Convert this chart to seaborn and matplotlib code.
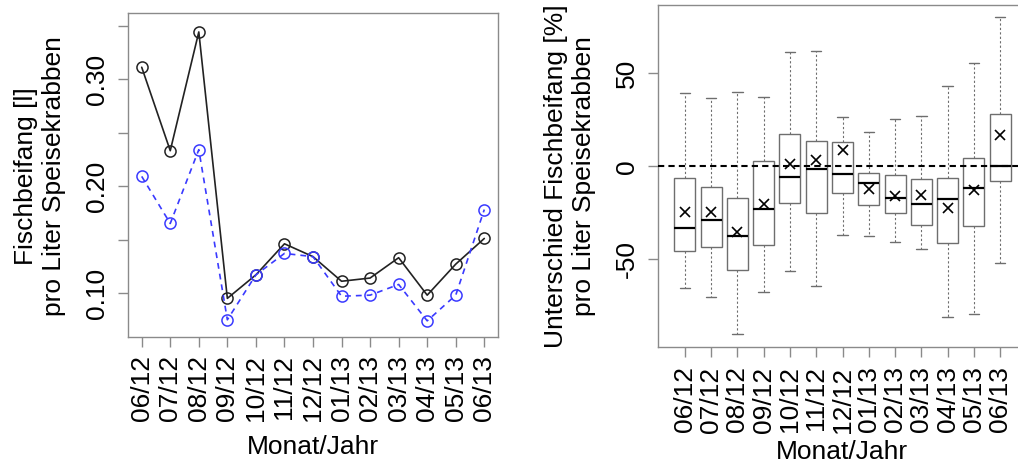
import numpy as np
import pandas as pd
import matplotlib
matplotlib.use("Agg")
import matplotlib.pyplot as plt
import seaborn as sns

# Month labels (month/year)
months = ["06/12", "07/12", "08/12", "09/12", "10/12", "11/12", "12/12",
          "01/13", "02/13", "03/13", "04/13", "05/13", "06/13"]

# Fish bycatch per litre of shrimp: two series
bycatch_a = [0.311, 0.233, 0.344, 0.095, 0.117, 0.146, 0.134,
             0.111, 0.114, 0.133, 0.098, 0.127, 0.151]
bycatch_b = [0.209, 0.165, 0.234, 0.075, 0.117, 0.137, 0.134,
             0.097, 0.098, 0.108, 0.074, 0.098, 0.178]

# Difference in bycatch [%]: five-number summaries and means per month
diff_min = [-65.4, -70.4, -90.1, -67.4, -56.5, -64.5, -36.7,
            -37.6, -40.5, -44.6, -80.8, -79.2, -51.8]
diff_q1 = [-45.5, -43.4, -55.9, -42.3, -19.9, -25.3, -14.2,
           -20.8, -25.3, -31.4, -41.2, -32.3, -7.7]
diff_median = [-33.2, -29.0, -37.6, -22.8, -5.7, -1.6, -4.1,
               -9.1, -17.0, -20.1, -17.7, -11.5, 0.0]
diff_q3 = [-6.3, -11.1, -17.0, 2.9, 17.2, 13.6, 13.1,
           -3.6, -4.8, -6.6, -6.1, 4.5, 28.1]
diff_max = [39.1, 36.4, 39.8, 37.3, 61.1, 62.0, 26.3,
            18.5, 25.1, 27.1, 43.2, 55.2, 79.9]
diff_mean = [-24.6, -24.6, -35.3, -20.4, 1.4, 3.2, 8.6,
             -12.0, -15.9, -15.2, -22.4, -12.9, 16.7]

sns.set_style("white")
plt.rcParams["font.family"] = ["Liberation Sans", "DejaVu Sans"]
plt.rcParams["text.color"] = "black"

FS = 19
SPINE = "#8a8a8a"

fig = plt.figure(figsize=(10.18, 4.65), dpi=100)
W, H = 1018, 465
ax1 = fig.add_axes([128 / W, (H - 337) / H, 370 / W, 324 / H])
ax2 = fig.add_axes([658 / W, (H - 347) / H, 369 / W, 342 / H])

# ---- left panel: line chart ----
pos = np.arange(len(months))
line_df = pd.DataFrame({"pos": pos, "a": bycatch_a, "b": bycatch_b})
sns.lineplot(data=line_df, x="pos", y="a", ax=ax1, color="#222222",
             linewidth=1.2, marker="o", markersize=8,
             markerfacecolor="none", markeredgecolor="#222222",
             markeredgewidth=1.1)
sns.lineplot(data=line_df, x="pos", y="b", ax=ax1, color="#3a3aff",
             linewidth=1.2, linestyle=(0, (3.5, 3)), marker="o", markersize=8,
             markerfacecolor="none", markeredgecolor="#3a3aff",
             markeredgewidth=1.1)
ax1.set_xlim(-0.48, 12.48)
ax1.set_ylim(0.0589, 0.3617)
yt = [0.10, 0.15, 0.20, 0.25, 0.30, 0.35]
ax1.set_yticks(yt, ["0.10", "", "0.20", "", "0.30", ""])
ax1.set_xticks(pos, months)
ax1.set_xlabel("")
ax1.set_ylabel("")

# ---- right panel: box plot ----
rows = []
for m, lo, q1, md, q3, hi in zip(months, diff_min, diff_q1, diff_median,
                                 diff_q3, diff_max):
    for v in (lo, q1, md, q3, hi):
        rows.append({"month": m, "diff": v})
box_df = pd.DataFrame(rows)

ax2.axhline(0, color="black", linewidth=1.5, linestyle=(0, (3, 2)), zorder=5)
sns.boxplot(data=box_df, x="month", y="diff", order=months, ax=ax2,
            color="white", linecolor="#6e6e6e", linewidth=1.0, width=0.8,
            whis=(0, 100), showfliers=False,
            whiskerprops=dict(linestyle=(0, (2, 2)), linewidth=0.8),
            medianprops=dict(color="black", linewidth=1.6))
sns.pointplot(x=months, y=diff_mean, order=months, ax=ax2, color="black",
              marker="x", linestyle="none", errorbar=None, markersize=7,
              markeredgewidth=1.2)
ax2.set_xlim(-1.02, 13.02)
ax2.set_ylim(-97.1, 86.6)
ax2.set_yticks([-50, 0, 50], ["-50", "0", "50"])
ax2.set_xticks(np.arange(len(months)), months)
ax2.set_xlabel("")
ax2.set_ylabel("")

for ax, xpad in ((ax1, 6), (ax2, 7)):
    ax.grid(False)
    for s in ax.spines.values():
        s.set_color(SPINE)
        s.set_linewidth(1.0)
        s.set_visible(True)
    ax.tick_params(axis="both", which="both", direction="out", length=7,
                   width=1.0, color=SPINE, labelsize=FS, labelcolor="black",
                   bottom=True, left=True, top=False, right=False)
    ax.tick_params(axis="y", pad=7)
    ax.tick_params(axis="x", pad=xpad)
    for lab in ax.get_yticklabels():
        lab.set_rotation(90)
        lab.set_va("center")
    for lab in ax.get_xticklabels():
        lab.set_rotation(90)
        lab.set_ha("center")

# axis titles
fig.text(40 / W, 1 - 176 / H, "Fischbeifang [l]\npro Liter Speisekrabben",
         rotation=90, ha="center", va="center", fontsize=FS, linespacing=1.2,
         color="black")
fig.text(570 / W, 1 - 176 / H, "Unterschied Fischbeifang [%]\npro Liter Speisekrabben",
         rotation=90, ha="center", va="center", fontsize=FS, linespacing=1.2,
         color="black")
fig.text(313 / W, 1 - 447 / H, "Monat/Jahr", ha="center", va="center",
         fontsize=FS, color="black")
fig.text(842 / W, 1 - 452 / H, "Monat/Jahr", ha="center", va="center",
         fontsize=FS, color="black")

fig.savefig("out.png", dpi=100)
